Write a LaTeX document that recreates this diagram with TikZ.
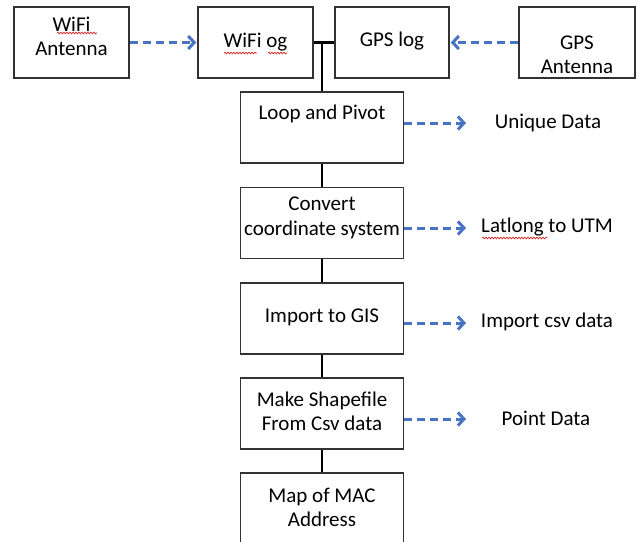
\documentclass[tikz,border=0pt]{standalone}
\usepackage{fontspec}
\setmainfont{Carlito}
\usetikzlibrary{arrows.meta,decorations.pathmorphing}
\definecolor{arrblue}{RGB}{72,114,196}
\definecolor{boxline}{RGB}{50,50,50}
\definecolor{squig}{RGB}{215,40,40}
\tikzset{
  box/.style={draw=boxline,line width=1.5pt,fill=white,minimum width=#1,minimum height=71pt,inner sep=0pt},
  box/.default=163pt,
  txt/.style={font=\fontsize{21}{24.5}\selectfont,align=center,inner sep=0pt},
  arr/.style={draw=arrblue,line width=3pt,dash pattern=on 8pt off 5pt,-{Straight Barb[length=6pt,width=13pt]}},
  conn/.style={draw=black,line width=2.7pt},
  squiggle/.style={draw=squig,line width=0.7pt,decorate,decoration={snake,amplitude=0.9pt,segment length=3pt}}
}
\begin{document}
\begin{tikzpicture}[x=1pt,y=-1pt]
\useasboundingbox (0,0) rectangle (642,541);
% top row boxes
\node[box=115pt] (wa) at (71.5,42.5) {};
\node[box=115pt] (wl) at (255.5,42.5) {};
\node[box=114pt] (gl) at (392,42.5) {};
\node[box=116pt] (ga) at (577,42.5) {};
% column boxes
\node[box] (loop) at (322,127.5) {};
\node[box] (conv) at (322,223) {};
\node[box] (gis) at (322,318.5) {};
\node[box] (shp) at (322,413.5) {};
\node[box,minimum height=90pt] (map) at (322,518) {};
% texts
\node[txt] (wat) at (71.5,36.5) {WiFi\\Antenna};
\node[txt] (wlt) at (255.5,42) {WiFi og};
\node[txt] (glt) at (392,41) {GPS log};
\node[txt] (gat) at (577,55) {GPS\\Antenna};
\node[txt] (loopt) at (322,114) {Loop and Pivot};
\node[txt] (convt) at (322,218) {Convert\\coordinate system};
\node[txt] (gist) at (322,317) {Import to GIS};
\node[txt] (shpt) at (322,411.5) {Make Shapefile\\From Csv data};
\node[txt] (mapt) at (322,507.5) {Map of MAC\\Address};
% side labels
\node[txt] (ud) at (548,123) {Unique Data};
\node[txt] (ll) at (547,227) {Latlong to UTM};
\node[txt] (ic) at (547,322) {Import csv data};
\node[txt] (pd) at (546,418) {Point Data};
% arrow ends
\coordinate (e1) at (466,123);
\coordinate (e2) at (466,228);
\coordinate (e3) at (466,323);
\coordinate (e4) at (466,419);
% dashed arrows
\draw[arr] (wa.east) -- ([xshift=-1pt]wl.west);
\draw[arr] (ga.west) -- ([xshift=1pt]gl.east);
\draw[arr] (loop.east |- e1) -- (e1);
\draw[arr] (conv.east |- e2) -- (e2);
\draw[arr] (gis.east |- e3) -- (e3);
\draw[arr] (shp.east |- e4) -- (e4);
% connectors
\draw[conn] (wl.east) -- (gl.west);
\coordinate (j) at (322,42.5);
\draw[conn] (j) -- (loop.north);
\draw[conn] (loop.south) -- (conv.north);
\draw[conn] (conv.south) -- (gis.north);
\draw[conn] (gis.south) -- (shp.north);
\draw[conn] (shp.south) -- (map.north);
% spell-check squiggles
\draw[squiggle] (57,33) -- (97,33);
\draw[squiggle] (224,53) -- (257,53);
\draw[squiggle] (268,53) -- (287,53);
\draw[squiggle] (482,238) -- (547,238);
\end{tikzpicture}
\end{document}
